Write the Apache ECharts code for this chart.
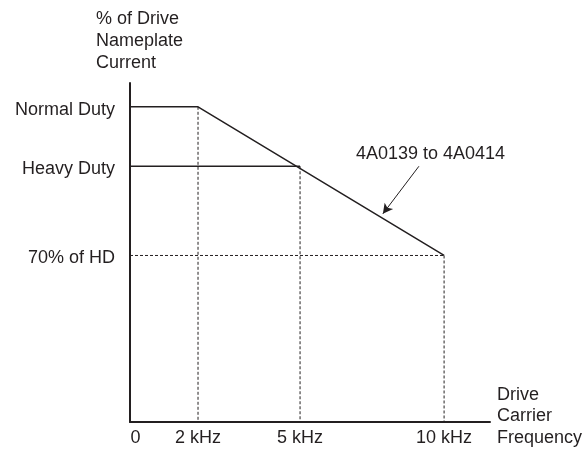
<!DOCTYPE html>
<html>
<head>
<meta charset="utf-8">
<script src="https://cdn.jsdelivr.net/npm/echarts@6/dist/echarts.min.js"></script>
<style>
  html, body { margin: 0; padding: 0; background: #fff; }
  #chart { width: 583px; height: 449px; }
</style>
</head>
<body>
<div id="chart"></div>
<script>
// x in kHz, y in % of HD current (schematic levels)
const freqTicks = [0, 2, 5, 10];
const freqLabels = ['0', '2 kHz', '5 kHz', '10 kHz'];
const levelValues = [120, 100, 70];
const levelNames = ['Normal Duty', 'Heavy Duty', '70% of HD'];

// derating curves
const ndFreq = [0, 2, 10];
const ndLevel = [120, 120, 70];
const hdFreq = [0, 5];
const hdLevel = [100, 100];

// annotation
const noteText = '4A0139 to 4A0414';
const notePos = [9.6, 104.2];
const arrowFrom = [9.26, 100];
const arrowTo = [8.2, 84];

const Y_MIN = 14;
const INK = '#231f20';
const FONT = "'Liberation Sans', Arial, sans-serif";

function pairs(xs, ys) {
  return xs.map((x, i) => [x, ys[i]]);
}

// dashed guide lines: verticals down to the x axis, horizontal at 70% of HD
const guides = [
  [[ndFreq[1], ndLevel[1]], [ndFreq[1], Y_MIN]],
  [[hdFreq[1], hdLevel[1]], [hdFreq[1], Y_MIN]],
  [[ndFreq[2], ndLevel[2]], [ndFreq[2], Y_MIN]],
  [[0, levelValues[2]], [ndFreq[2], levelValues[2]]]
];

const chart = echarts.init(document.getElementById('chart'));

const series = guides.map(g => ({
  type: 'line',
  data: g,
  symbol: 'none',
  silent: true,
  lineStyle: { color: INK, width: 1, type: [3, 2] },
  z: 1
}));

series.push({
  type: 'line',
  data: pairs(hdFreq, hdLevel),
  symbol: 'none',
  lineStyle: { color: INK, width: 1.5 },
  z: 3
});

series.push({
  type: 'line',
  data: pairs(ndFreq, ndLevel),
  symbol: 'none',
  lineStyle: { color: INK, width: 1.5 },
  z: 3,
  markLine: {
    silent: true,
    symbol: ['none', 'arrow'],
    symbolSize: [8, 10],
    lineStyle: { color: INK, width: 1, type: 'solid' },
    label: { show: false },
    data: [[{ coord: arrowFrom }, { coord: arrowTo }]]
  },
  markPoint: {
    silent: true,
    symbol: 'circle',
    symbolSize: 0,
    label: {
      show: true,
      position: 'inside',
      formatter: noteText,
      color: INK,
      fontSize: 18,
      fontFamily: FONT
    },
    data: [{ coord: notePos }]
  }
});

const nameStyle = {
  fontSize: 18,
  fontWeight: 'normal',
  fontFamily: FONT,
  color: INK
};

chart.setOption({
  animation: false,
  backgroundColor: '#fff',
  // axis names, left-aligned blocks as in the drawing
  title: [{
    text: '% of Drive\nNameplate\nCurrent',
    left: 96,
    top: 8,
    padding: 0,
    textStyle: Object.assign({ lineHeight: 22 }, nameStyle)
  }, {
    text: 'Drive\nCarrier\nFrequency',
    left: 497,
    top: 384,
    padding: 0,
    textStyle: Object.assign({ lineHeight: 21.5 }, nameStyle)
  }],
  grid: { left: 130, right: 93, top: 83, bottom: 27, outerBoundsMode: 'none' },
  xAxis: {
    type: 'value',
    min: 0,
    max: 11.35,
    breaks: [{ start: 5.2, end: 5.965, gap: 0 }],
    breakArea: { show: false },
    axisLine: { show: true, onZero: false, lineStyle: { color: INK, width: 2 } },
    axisTick: { show: false },
    splitLine: { show: false },
    axisLabel: {
      customValues: freqTicks,
      formatter: v => v === 0 ? '{zero|0}' : (freqLabels[freqTicks.indexOf(v)] || ''),
      rich: { zero: { padding: [0, 0, 0, 11], fontSize: 18, fontFamily: FONT, color: INK } },
      margin: 7,
      fontSize: 18,
      fontFamily: FONT,
      color: INK
    }
  },
  yAxis: {
    type: 'value',
    min: Y_MIN,
    max: 128,
    axisLine: { show: true, onZero: false, lineStyle: { color: INK, width: 2 } },
    axisTick: { show: false },
    splitLine: { show: false },
    axisLabel: {
      customValues: levelValues,
      formatter: v => '{lv|' + (levelNames[levelValues.indexOf(v)] || '') + '}',
      rich: { lv: { padding: [6, 0, 0, 0], fontSize: 18, fontFamily: FONT, color: INK } },
      margin: 15,
      fontSize: 18,
      fontFamily: FONT,
      color: INK
    }
  },
  series: series
});
</script>
</body>
</html>
